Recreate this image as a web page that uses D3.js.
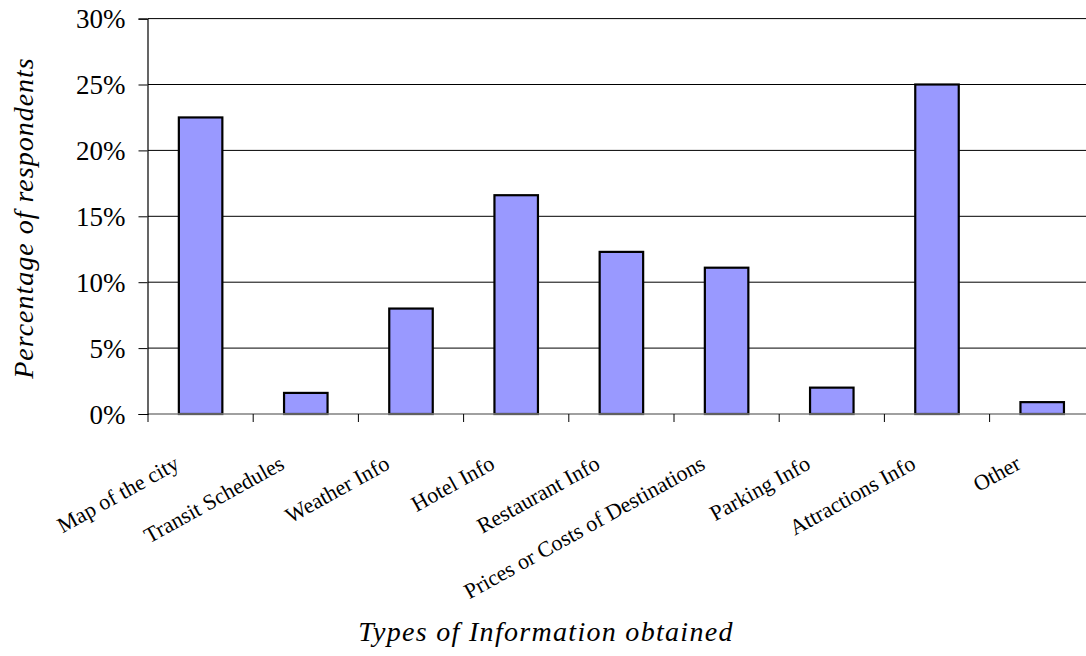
<!DOCTYPE html>
<html>
<head>
<meta charset="utf-8">
<script src="https://cdn.jsdelivr.net/npm/d3@7"></script>
<style>
  html, body { margin: 0; padding: 0; background: #fff; }
  svg { display: block; }
  text { font-family: "Liberation Serif", "Times New Roman", serif; fill: #000; }
</style>
</head>
<body>
<svg id="chart" width="1086" height="656"></svg>
<script>
// Information types obtained by respondents (share of respondents)
const categories = [
  "Map of the city", "Transit Schedules", "Weather Info", "Hotel Info",
  "Restaurant Info", "Prices or Costs of Destinations", "Parking Info",
  "Attractions Info", "Other"
];
const shares = [0.225, 0.016, 0.080, 0.166, 0.123, 0.111, 0.020, 0.250, 0.009];
const yTicks = [0, 0.05, 0.10, 0.15, 0.20, 0.25, 0.30];

const svg = d3.select("#chart");

const left = 148, band = 105.2;
const x = d3.scaleBand().domain(categories).range([left, left + band * categories.length]);
const y = d3.scaleLinear().domain([0, 0.30]).range([414, 18.6]);
const barWidth = 43.5;

// horizontal gridlines
svg.append("g").selectAll("line").data(yTicks.filter(d => d > 0)).join("line")
  .attr("x1", left).attr("x2", x.range()[1])
  .attr("y1", d => y(d)).attr("y2", d => y(d))
  .attr("stroke", "#000").attr("stroke-width", 1);

// bars
svg.append("g").selectAll("rect").data(categories).join("rect")
  .attr("x", (d) => x(d) + x.bandwidth() / 2 - barWidth / 2)
  .attr("width", barWidth)
  .attr("y", (d, i) => y(shares[i]))
  .attr("height", (d, i) => y(0) - y(shares[i]))
  .attr("fill", "#9999FF")
  .attr("stroke", "#000")
  .attr("stroke-width", 2.2);

// x axis (category boundaries as ticks)
const xAxis = svg.append("g");
xAxis.append("line")
  .attr("x1", left).attr("x2", x.range()[1])
  .attr("y1", y(0)).attr("y2", y(0))
  .attr("stroke", "#808080").attr("stroke-width", 1.5);
xAxis.selectAll("line.tick").data(d3.range(categories.length + 1)).join("line")
  .attr("class", "tick")
  .attr("x1", i => left + i * band).attr("x2", i => left + i * band)
  .attr("y1", y(0)).attr("y2", y(0) + 8)
  .attr("stroke", "#000").attr("stroke-width", 1);

xAxis.selectAll("text").data(categories).join("text")
  .attr("transform", d => `translate(${x(d) + x.bandwidth() / 2 - 20},468) rotate(-29)`)
  .attr("text-anchor", "end")
  .style("font-size", "22px")
  .text(d => d);

// y axis
const yAxis = d3.axisLeft(y).tickValues(yTicks).tickSize(9).tickPadding(13)
  .tickFormat(d3.format(".0%"));
const yg = svg.append("g").attr("transform", `translate(${left - 0.5},0)`).call(yAxis);
yg.select(".domain").attr("stroke", "#000").attr("stroke-width", 1.2);
yg.selectAll(".tick line").attr("stroke", "#000");
yg.selectAll(".tick text")
  .style("font-size", "27px")
  .style("font-family", "'Liberation Serif', 'Times New Roman', serif")
  .attr("fill", "#000")
  .attr("dy", "0.34em");

// axis titles
svg.append("text")
  .attr("transform", "translate(33,218) rotate(-90)")
  .attr("text-anchor", "middle")
  .style("font-size", "28px")
  .style("font-style", "italic")
  .style("letter-spacing", "1px")
  .text("Percentage of respondents");

svg.append("text")
  .attr("x", 546).attr("y", 641)
  .attr("text-anchor", "middle")
  .style("font-size", "28px")
  .style("font-style", "italic")
  .style("letter-spacing", "1.3px")
  .text("Types of Information obtained");
</script>
</body>
</html>
